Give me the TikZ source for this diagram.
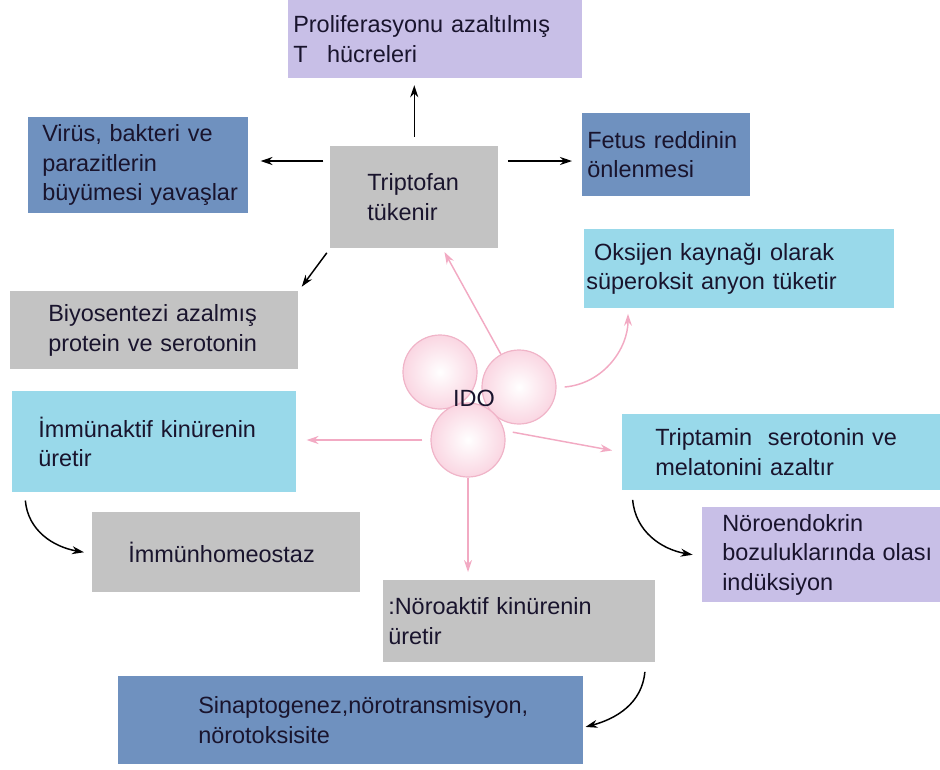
\documentclass[tikz,border=0pt]{standalone}
\usepackage{fontspec}
\setmainfont{Liberation Sans}
\usepackage{tikz}
\usetikzlibrary{arrows.meta}
\definecolor{lilac}{RGB}{200,191,231}
\definecolor{greybox}{RGB}{195,195,195}
\definecolor{steel}{RGB}{111,145,191}
\definecolor{skyc}{RGB}{153,217,234}
\definecolor{rosel}{RGB}{242,170,195}
\definecolor{roseedge}{RGB}{240,180,200}
\definecolor{rosefill}{RGB}{250,214,226}
\definecolor{inkc}{RGB}{25,20,45}
\newlength{\pxu}
\setlength{\pxu}{0.75pt}
\newcommand{\lpad}[2]{\raggedright\leftskip=#1\pxu\relax #2\par}

\begin{document}
\begin{tikzpicture}
		[x=0.75pt, y=-0.75pt,
		box/.style={rectangle, anchor=north west, inner sep=0pt, text=inkc, font=\fontsize{17.6}{22}\selectfont},
		blk/.style={-{Stealth[length=9pt, width=6pt]}, line width=1.1pt},
		pnk/.style={-{Stealth[length=9pt, width=6pt]}, line width=1.1pt, draw=rosel},
		ball/.style={circle, minimum size=74*0.75pt, inner sep=0pt, draw=roseedge, line width=0.9pt, inner color=white, outer color=rosefill}]
		\useasboundingbox (0,0) rectangle (940,769);
		% nodes %
		\node[box, fill=lilac, text width=294*0.75pt, minimum height=78*0.75pt] (tcell) at (288,0) {\lpad{5}{Proliferasyonu azaltılmış\newline T\enspace\ hücreleri}};
		\node[box, fill=greybox, text width=168*0.75pt, minimum height=102*0.75pt] (trip) at (330,146) {\lpad{37}{Triptofan\newline tükenir}};
		\node[box, fill=steel, text width=220*0.75pt, minimum height=96*0.75pt] (virus) at (28,117) {\lpad{14}{Virüs, bakteri ve\newline parazitlerin\newline büyümesi yavaşlar}};
		\node[box, fill=steel, text width=168*0.75pt, minimum height=83*0.75pt] (fetus) at (582,113) {\lpad{5}{Fetus reddinin\newline önlenmesi}};
		\node[box, fill=skyc, text width=310*0.75pt, minimum height=79*0.75pt] (oxy) at (584,229) {\lpad{2}{\ Oksijen kaynağı olarak\newline süperoksit anyon tüketir}};
		\node[box, fill=greybox, text width=288*0.75pt, minimum height=78*0.75pt] (biyo) at (10,291) {\lpad{38}{Biyosentezi azalmış\newline protein ve serotonin}};
		\node[box, fill=skyc, text width=284*0.75pt, minimum height=101*0.75pt] (immun) at (12,391) {\lpad{26}{İmmünaktif kinürenin\newline üretir}};
		\node[box, fill=greybox, text width=268*0.75pt, minimum height=80*0.75pt] (homeo) at (92,512) {\lpad{36}{İmmünhomeostaz}};
		\node[box, fill=skyc, text width=318*0.75pt, minimum height=76*0.75pt] (tamin) at (622,414) {\lpad{33}{Triptamin\ \ serotonin ve\newline melatonini azaltır}};
		\node[box, fill=lilac, text width=238*0.75pt, minimum height=95*0.75pt] (neuro) at (702,507) {\lpad{20}{Nöroendokrin\newline bozuluklarında olası\newline indüksiyon}};
		\node[box, fill=greybox, text width=272*0.75pt, minimum height=82*0.75pt] (kyn) at (383,580) {\lpad{5}{:Nöroaktif kinürenin\newline üretir}};
		\node[box, fill=steel, text width=465*0.75pt, minimum height=88*0.75pt] (synap) at (118,676) {\lpad{80}{Sinaptogenez,nörotransmisyon,\newline nörotoksisite}};
		\node[ball] (c1) at (440,372) {};
		\node[ball] (c2) at (519,387) {};
		\node[ball] (c3) at (468,440) {};
		\node[text=inkc, font=\fontsize{17.6}{20}\selectfont] (ido) at (474,398) {IDO};
		\coordinate (tl) at ([yshift=-11.25pt]trip.north west);
		\coordinate (tr) at ([yshift=-11.25pt]trip.north east);

		% edges %
		\draw[blk, shorten <=7pt, shorten >=5pt] (trip.north) -- (trip.north |- tcell.south);
		\draw[blk, shorten <=5pt, shorten >=9pt] (tl) -- (tl -| virus.east);
		\draw[blk, shorten <=7pt, shorten >=7.5pt] (tr) -- (tr -| fetus.west);
		\draw[blk, shorten <=4pt, shorten >=4pt] (trip.south west) -- (biyo.north east);
		\draw[pnk, shorten >=3pt] (c2) -- (trip);
		\draw[pnk, shorten >=4pt] ([xshift=6pt]c2.east) to[out=5, in=-90] ([xshift=33pt]oxy.south west);
		\draw[pnk, shorten >=7.5pt] ([xshift=-6pt]c3.west) -- (c3.west -| immun.east);
		\draw[pnk, shorten >=7.5pt] ([xshift=6pt]c3.12) -- (tamin.west);
		\draw[pnk, shorten >=6pt] (c3.south) -- (c3.south |- kyn.north);
		\draw[blk] ([xshift=10pt, yshift=-6pt]immun.south west) to[out=-85, in=170] ([xshift=-6pt]homeo.west);
		\draw[blk] ([xshift=8pt, yshift=-7pt]tamin.south west) to[out=-85, in=170] ([xshift=-7pt]neuro.west);
		\draw[blk] ([xshift=-8pt, yshift=-7pt]kyn.south east) to[out=-95, in=15] ([xshift=1.5pt, yshift=-5pt]synap.east);
\end{tikzpicture}
\end{document}
